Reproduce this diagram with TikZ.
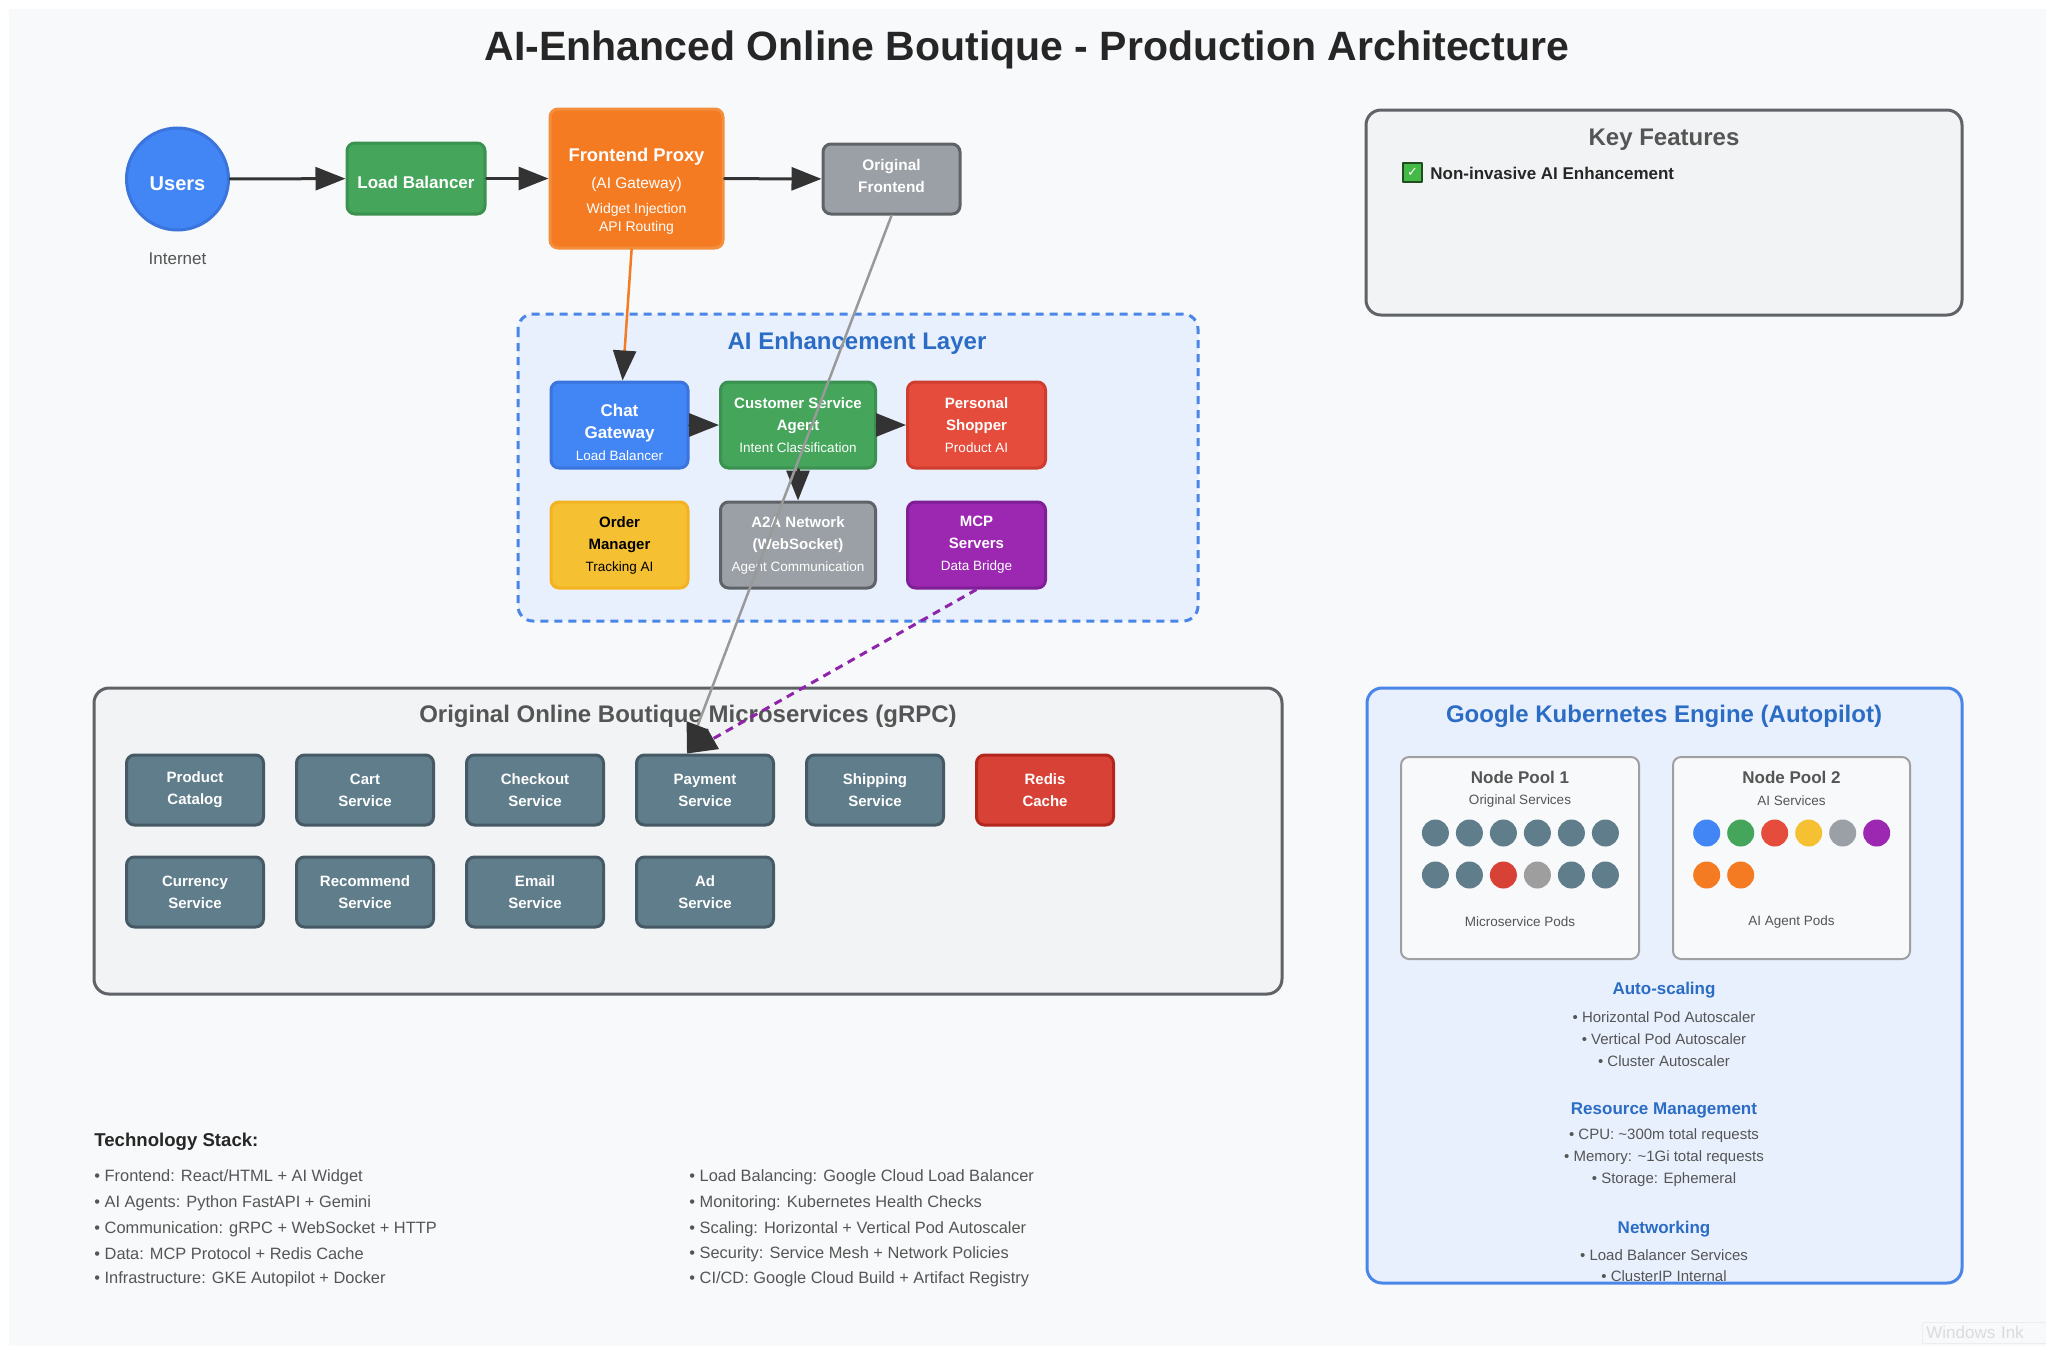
\documentclass[tikz,border=0pt]{standalone}
\usepackage{fontspec}
\setmainfont{Liberation Sans}
\newfontfamily\checkfont{DejaVu Sans}
\usepackage{tikz}
\usetikzlibrary{arrows.meta}
\usetikzlibrary{calc}
\usetikzlibrary{positioning}

\definecolor{bgpage}{HTML}{F8F9FA}
\definecolor{arrowdark}{HTML}{333333}
\definecolor{textdark}{HTML}{262626}
\definecolor{textgray}{HTML}{555555}
\definecolor{titleblue}{HTML}{2B6CC4}
\definecolor{gblue}{HTML}{4285F4}
\definecolor{gbluedark}{HTML}{3A74DC}
\definecolor{ggreen}{HTML}{44A55B}
\definecolor{ggreendark}{HTML}{3A9150}
\definecolor{gorange}{HTML}{F57B22}
\definecolor{gorangedark}{HTML}{F28E3C}
\definecolor{ggray}{HTML}{9AA0A6}
\definecolor{ggraydark}{HTML}{5F6368}
\definecolor{gred}{HTML}{E64C3C}
\definecolor{greddark}{HTML}{CF3D2E}
\definecolor{gyellow}{HTML}{F6C033}
\definecolor{gyellowdark}{HTML}{F3B321}
\definecolor{gpurple}{HTML}{9C27B0}
\definecolor{gpurpledark}{HTML}{7E1F96}
\definecolor{slate}{HTML}{607D8B}
\definecolor{slatedark}{HTML}{455A64}
\definecolor{redis}{HTML}{D84135}
\definecolor{redisdark}{HTML}{B3261E}
\definecolor{layerblue}{HTML}{4A86E8}
\definecolor{layerfill}{HTML}{E8F0FE}
\definecolor{panelfill}{HTML}{F1F3F4}
\definecolor{poolfill}{HTML}{F8F9FA}
\definecolor{poolline}{HTML}{A0A0A0}
\definecolor{linegray}{HTML}{999999}
\definecolor{mcpline}{HTML}{8E24AA}
\definecolor{podgray}{HTML}{9E9E9E}
\definecolor{podorange}{HTML}{F57B22}
\definecolor{checkgreen}{HTML}{45B945}
\definecolor{checkdark}{HTML}{1E4E1E}

\tikzset{
	archbox/.style={draw, rounded corners=4pt, line width=1.5pt, align=center, inner sep=0pt, text=white},
	flowbox/.style={archbox, font=\bfseries\fontsize{8.5}{11}\selectfont, minimum width=69pt, minimum height=35.5pt},
	agentbox/.style={archbox, font=\fontsize{7.5}{11}\selectfont, minimum height=43pt},
	svcbox/.style={archbox, fill=slate, draw=slatedark, font=\bfseries\fontsize{7.5}{11}\selectfont, minimum width=68.5pt, minimum height=35pt},
	panel/.style={draw=ggraydark, fill=panelfill, line width=1.5pt, rounded corners=7.5pt},
	layer/.style={draw=layerblue, fill=layerfill, line width=1.5pt, rounded corners=7.5pt, dash pattern=on 4pt off 3pt, line cap=butt},
	pool/.style={draw=poolline, fill=poolfill, line width=1pt, rounded corners=4pt},
	pod/.style={circle, inner sep=0pt, minimum size=13.5pt},
	paneltitle/.style={font=\bfseries\fontsize{12}{14}\selectfont},
	subhead/.style={font=\bfseries\fontsize{8.5}{10}\selectfont, text=titleblue},
	smalltext/.style={font=\fontsize{7.5}{9}\selectfont, text=textgray},
	pooltext/.style={font=\fontsize{6.75}{8}\selectfont, text=textgray},
	stacktext/.style={anchor=west, font=\fontsize{8.2}{10}\selectfont, text=textgray, inner sep=0pt},
	flowarrow/.style={->, draw=arrowdark, line width=1.5pt},
}

\begin{document}
\begin{tikzpicture}[x=0.5pt,y=-0.5pt,line cap=round,line join=round,>={Triangle[length=15pt,width=11.5pt,color=arrowdark]}]
	\useasboundingbox (0,0) rectangle (2046,1346);
	\fill[white] (0,0) rectangle (2046,1346);
	\fill[bgpage] (9,9) rectangle (2046,1346);
	
	\node[font=\bfseries\fontsize{20.5}{24}\selectfont, text=textdark] (title) at (1027,50) {AI-Enhanced Online Boutique - Production Architecture};
	
	% containers
	\draw[layer] (518,314) rectangle (1198,621);
	\draw[panel] (94,688) rectangle (1282,994);
	\draw[panel] (1366,110) rectangle (1962,315);
	\fill[layerfill, rounded corners=7.5pt] (1367,688) rectangle (1962,1283);
	\draw[pool] (1401,757) rectangle (1639,959);
	\draw[pool] (1673,757) rectangle (1910,959);
	
	% request path
	\node[circle, draw=gbluedark, fill=gblue, line width=1.5pt, minimum size=51pt, text=white, font=\bfseries\fontsize{10}{12}\selectfont] (users) at (177.5,179) {\rule{0pt}{11.2pt}Users};
	\node[font=\fontsize{8.5}{10}\selectfont, text=textgray] (internet) at (177.5,259) {Internet};
	\node[flowbox, fill=ggreen, draw=ggreendark] (lb) at (416,178.5) {\rule{0pt}{10.1pt}Load Balancer};
	\node[archbox, fill=gorange, draw=gorangedark, minimum width=86.5pt, minimum height=69.5pt, font=\fontsize{7}{9}\selectfont] (fp) at (636.5,178.5) {\rule{0pt}{19pt}{\bfseries\fontsize{9.2}{9}\selectfont Frontend Proxy}\\[4.5pt]{\fontsize{7.75}{9}\selectfont (AI Gateway)}\\[3.5pt]Widget Injection\\API Routing};
	\node[flowbox, fill=ggray, draw=ggraydark, minimum width=68.5pt, minimum height=35pt, font=\bfseries\fontsize{7.7}{11}\selectfont] (of) at (891.5,179) {Original\\Frontend\rule[-2.6pt]{0pt}{2.6pt}};
	
	% AI layer
	\node[paneltitle, text=titleblue] (layertitle) at (857,343) {AI Enhancement Layer};
	\node[agentbox, fill=gblue, draw=gbluedark, minimum width=68.5pt] (chat) at (619.5,425) {\rule{0pt}{14pt}{\bfseries\fontsize{8.5}{11}\selectfont Chat}\\{\bfseries\fontsize{8.5}{11}\selectfont Gateway}\\{\fontsize{6.75}{11}\selectfont Load Balancer}};
	\node[agentbox, fill=ggreen, draw=ggreendark, minimum width=77.5pt] (cs) at (798,425) {\textbf{Customer Service}\\\textbf{Agent}\\{\fontsize{6.75}{11}\selectfont Intent Classification}};
	\node[agentbox, fill=gred, draw=greddark, minimum width=69pt] (ps) at (976.5,425) {\textbf{Personal}\\\textbf{Shopper}\\{\fontsize{6.75}{11}\selectfont Product AI}};
	\node[agentbox, fill=gyellow, draw=gyellowdark, minimum width=68.5pt, text=black] (om) at (619.5,545) {\textbf{Order}\\\textbf{Manager}\\{\fontsize{6.75}{11}\selectfont Tracking AI}};
	\node[agentbox, fill=ggray, draw=ggraydark, minimum width=77.5pt] (a2a) at (798,545) {\textbf{A2A Network}\\\textbf{(WebSocket)}\\{\fontsize{6.75}{11}\selectfont Agent Communication}};
	\node[agentbox, fill=gpurple, draw=gpurpledark, minimum width=69pt] (mcp) at (976.5,545) {\textbf{MCP}\\\textbf{Servers}\\{\fontsize{6.75}{11}\selectfont Data Bridge}};
	
	% original microservices
	\node[paneltitle, text=textgray] (svctitle) at (688,716) {Original Online Boutique Microservices (gRPC)};
	\node[svcbox] (catalog) at (195,790) {Product\\Catalog};
	\node[svcbox] (cart) at (365,790) {Cart\\Service};
	\node[svcbox] (checkout) at (535,790) {Checkout\\Service};
	\node[svcbox] (pay) at (705,790) {Payment\\Service};
	\node[svcbox] (ship) at (875,790) {Shipping\\Service};
	\node[svcbox, fill=redis, draw=redisdark] (redis) at (1045,790) {Redis\\Cache};
	\node[svcbox] (currency) at (195,892) {Currency\\Service};
	\node[svcbox] (recommend) at (365,892) {Recommend\\Service};
	\node[svcbox] (email) at (535,892) {Email\\Service};
	\node[svcbox] (ad) at (705,892) {Ad\\Service};
	\coordinate (payin) at ([xshift=-9pt]pay.north);
	
	% key features
	\node[paneltitle, text=textgray] (keytitle) at (1664,140) {Key Features};
	\node[fill=checkgreen, draw=checkdark, line width=0.6pt, minimum size=9.5pt, inner sep=0pt, text=white, font=\checkfont\fontsize{6.5}{7}\selectfont] (chk) at (1412.5,172.5) {✓};
	\node[anchor=west, inner sep=0pt, font=\bfseries\fontsize{8.5}{10}\selectfont, text=textdark] (feat1) at (1430,173) {Non-invasive AI Enhancement};
	
	% GKE
	\node[paneltitle, text=titleblue] (gketitle) at (1664,716) {Google Kubernetes Engine (Autopilot)};
	\node[font=\bfseries\fontsize{8.5}{10}\selectfont, text=textgray] (pool1) at (1520,777) {Node Pool 1};
	\node[pooltext] (pool1sub) at (1520,801) {Original Services};
	\node[pooltext] (pool1pods) at (1520,922) {Microservice Pods};
	\node[font=\bfseries\fontsize{8.5}{10}\selectfont, text=textgray] (pool2) at (1791.5,777) {Node Pool 2};
	\node[pooltext] (pool2sub) at (1791.5,801) {AI Services};
	\node[pooltext] (pool2pods) at (1791.5,922) {AI Agent Pods};
	\foreach \c [count=\i from 0] in {slate,slate,slate,slate,slate,slate}
		\node[pod, fill=\c] (pa\i) at ({1435.4+34*\i},833) {};
	\foreach \c [count=\i from 0] in {slate,slate,redis,podgray,slate,slate}
		\node[pod, fill=\c] (pb\i) at ({1435.4+34*\i},875) {};
	\foreach \c [count=\i from 0] in {gblue,ggreen,gred,gyellow,ggray,gpurple}
		\node[pod, fill=\c] (qa\i) at ({1706.7+34*\i},833) {};
	\foreach \c [count=\i from 0] in {podorange,podorange}
		\node[pod, fill=\c] (qb\i) at ({1706.7+34*\i},875) {};
	
	\node[subhead] (scaling) at (1664,990) {Auto-scaling};
	\node[smalltext] (scale1) at (1664,1017) {• Horizontal Pod Autoscaler};
	\node[smalltext] (scale2) at (1664,1039) {• Vertical Pod Autoscaler};
	\node[smalltext] (scale3) at (1664,1061) {• Cluster Autoscaler};
	\node[subhead] (resources) at (1664,1110) {Resource Management};
	\node[smalltext] (res1) at (1664,1136) {• CPU: \textasciitilde300m total requests};
	\node[smalltext] (res2) at (1664,1158) {• Memory: \textasciitilde1Gi total requests};
	\node[smalltext] (res3) at (1664,1180) {• Storage: Ephemeral};
	\node[subhead] (networking) at (1664,1229) {Networking};
	\node[smalltext] (net1) at (1664,1255) {• Load Balancer Services};
	\node[smalltext] (net2) at (1664,1276) {• ClusterIP Internal};
	\draw[layerblue, line width=1.5pt, rounded corners=7.5pt] (1367,688) rectangle (1962,1283);
	
	% technology stack
	\node[anchor=west, inner sep=0pt, font=\bfseries\fontsize{9.3}{11}\selectfont, text=textdark] (stack) at (94,1142) {Technology Stack:};
	\node[stacktext] (st1) at (94,1177) {• Frontend: React/HTML + AI Widget};
	\node[stacktext] (st2) at (94,1203) {• AI Agents: Python FastAPI + Gemini};
	\node[stacktext] (st3) at (94,1229) {• Communication: gRPC + WebSocket + HTTP};
	\node[stacktext] (st4) at (94,1254) {• Data: MCP Protocol + Redis Cache};
	\node[stacktext] (st5) at (94,1279) {• Infrastructure: GKE Autopilot + Docker};
	\node[stacktext] (st6) at (689,1177) {• Load Balancing: Google Cloud Load Balancer};
	\node[stacktext] (st7) at (689,1203) {• Monitoring: Kubernetes Health Checks};
	\node[stacktext] (st8) at (689,1229) {• Scaling: Horizontal + Vertical Pod Autoscaler};
	\node[stacktext] (st9) at (689,1254) {• Security: Service Mesh + Network Policies};
	\node[stacktext] (st10) at (689,1279) {• CI/CD: Google Cloud Build + Artifact Registry};
	
	\node[anchor=north west, draw=black!7, text=black!14, inner sep=2pt, text width=70pt, align=left, font=\fontsize{8.5}{10}\selectfont] (ink) at (1922,1322) {Windows Ink};
	
	% connectors
	\draw[flowarrow] (users) -- (lb);
	\draw[flowarrow] (lb) -- (fp);
	\draw[flowarrow] (fp) -- (of);
	\draw[->, draw=gorange, line width=1.25pt] (fp) -- (chat);
	\draw[flowarrow] (chat) -- (cs);
	\draw[flowarrow] (cs) -- (ps);
	\draw[flowarrow] (cs) -- (a2a);
	\draw[->, draw=linegray, line width=1.25pt] (of.south) -- (payin);
	\draw[->, draw=mcpline, line width=1.5pt, dash pattern=on 4pt off 3pt, line cap=butt] (mcp.south) -- (payin);
	
\end{tikzpicture}
\end{document}
